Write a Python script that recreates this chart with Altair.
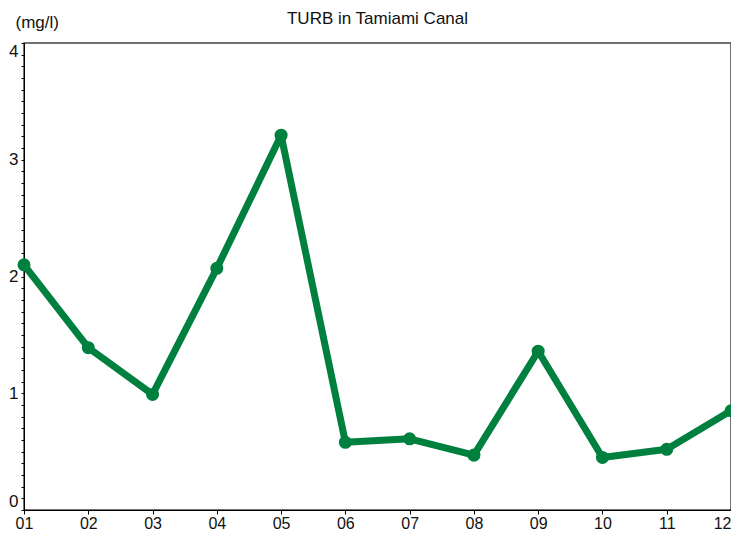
import altair as alt
import pandas as pd

months = ["01", "02", "03", "04", "05", "06", "07", "08", "09", "10", "11", "12"]
turb = [2.10, 1.39, 0.99, 2.07, 3.21, 0.58, 0.61, 0.47, 1.36, 0.45, 0.52, 0.85]

y_tick_values = [i / 10 for i in range(41)]

GREEN = "#00803E"
FONT = "Liberation Sans"

df = pd.DataFrame({"month": months, "turb": turb})

base = alt.Chart(df).encode(
    x=alt.X(
        "month:O",
        sort=months,
        scale=alt.Scale(type="point", padding=0.0),
        axis=alt.Axis(
            title=None, labelAngle=0, tickSize=4, labelFontSize=16, labelPadding=1,
            labelAlign={"condition": {"test": "datum.label == '12'", "value": "right"}, "value": "center"},
            domainColor="black", tickColor="black", labelColor="#111", grid=False,
        ),
    ),
    y=alt.Y(
        "turb:Q",
        scale=alt.Scale(domain=[0, 4], nice=False, zero=True),
        axis=alt.Axis(
            title="(mg/l)", values=y_tick_values,
            labelExpr="abs(datum.value - round(datum.value)) < 0.001 ? format(datum.value, 'd') : ''",
            tickSize=3, labelPadding=3, labelFontSize=17, labelFlush=True,
            domainColor="black", tickColor="black", labelColor="#111", grid=False,
            titleAngle=0, titleX=-9, titleY=-21, titleAlign="left", titleBaseline="middle",
            titleFontSize=17, titleFontWeight="normal", titleColor="#111",
        ),
    ),
)

line = base.mark_line(color=GREEN, strokeWidth=7, strokeJoin="round", strokeCap="round")
pts = base.mark_circle(color=GREEN, size=170, opacity=1)

chart = (
    alt.layer(line, pts)
    .properties(
        width=707,
        height=467,
        title=alt.TitleParams(
            text="TURB in Tamiami Canal", frame="group", anchor="middle", offset=0, dy=15,
            fontSize=17, font=FONT, fontWeight="normal", color="#111",
        ),
        padding={"left": 16, "top": 35, "right": 0, "bottom": 22},
        autosize="none",
    )
    .configure_view(stroke="#444", strokeWidth=1.5)
    .configure_axis(labelFont=FONT, titleFont=FONT)
)

chart.save("out.html", embed_options={"renderer": "svg", "actions": False})
